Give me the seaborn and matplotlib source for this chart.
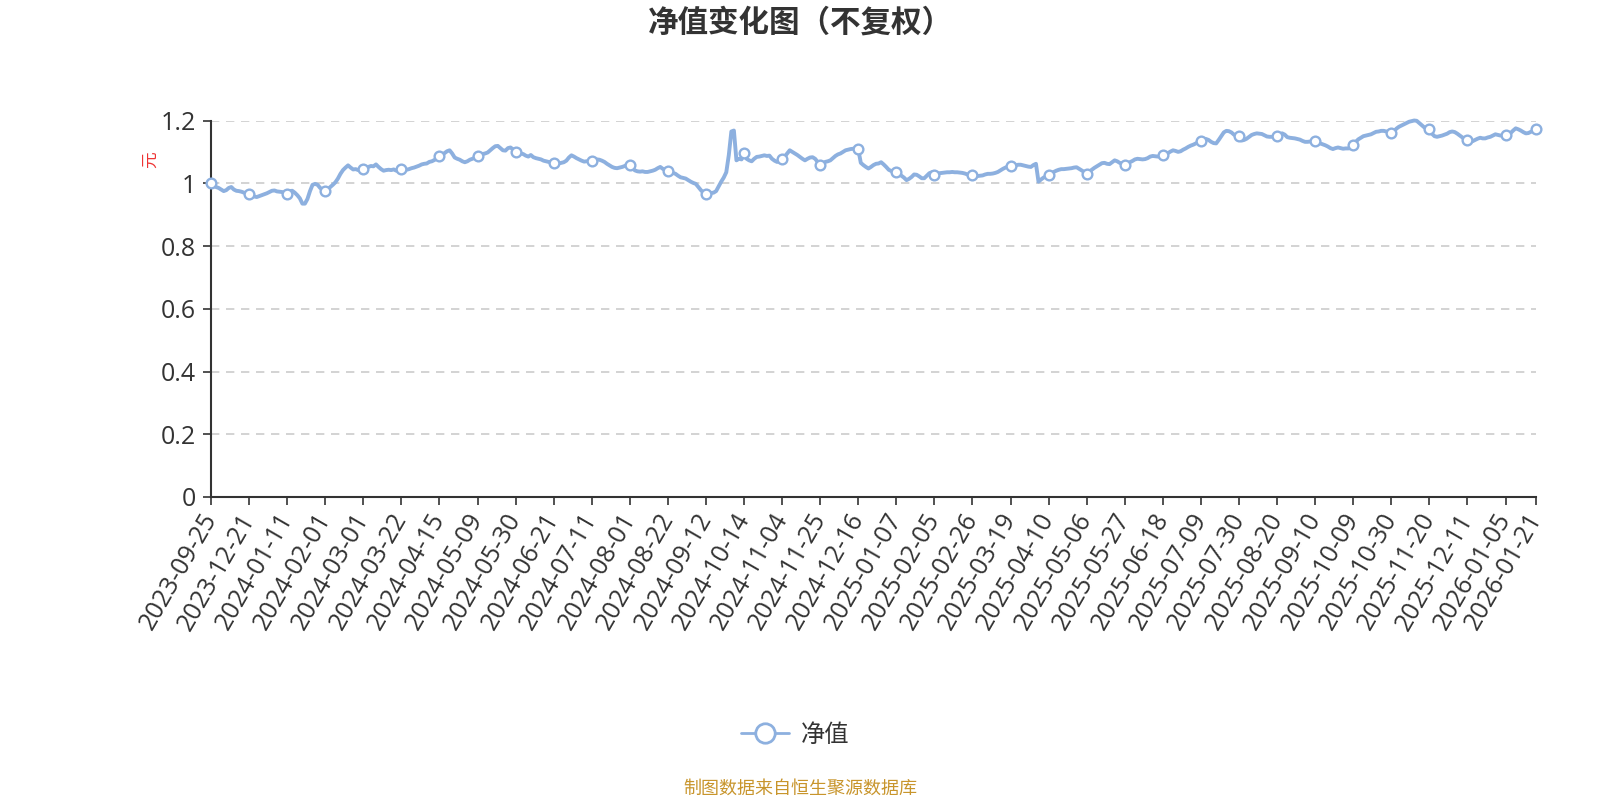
import numpy as np
import pandas as pd
import matplotlib
matplotlib.use('Agg')
import matplotlib.pyplot as plt
from matplotlib.lines import Line2D
import seaborn as sns

# net value per trading day
nav_values = [
    1.000, 0.993, 0.988, 0.985, 0.980, 0.975, 0.978, 0.985, 0.988, 0.980, 0.976, 0.975, 0.973, 0.970, 0.968, 0.966,
    0.962, 0.958, 0.956, 0.959, 0.962, 0.965, 0.968, 0.972, 0.976, 0.977, 0.974, 0.973, 0.972, 0.970, 0.967,
    0.975, 0.976, 0.970, 0.962, 0.952, 0.935, 0.935, 0.950, 0.975, 0.995, 0.998, 0.995, 0.985, 0.980, 0.975,
    0.980, 0.988, 0.995, 1.003, 1.015, 1.030, 1.042, 1.050, 1.057, 1.050, 1.044, 1.045, 1.042, 1.045, 1.046,
    1.050, 1.052, 1.055, 1.054, 1.060, 1.052, 1.045, 1.040, 1.042, 1.043, 1.042, 1.044, 1.040, 1.043, 1.045,
    1.044, 1.043, 1.045, 1.048, 1.050, 1.053, 1.056, 1.060, 1.062, 1.063, 1.068, 1.070, 1.074, 1.080, 1.086,
    1.090, 1.096, 1.102, 1.105, 1.095, 1.082, 1.078, 1.075, 1.070, 1.067, 1.070, 1.075, 1.078, 1.082, 1.086,
    1.088, 1.093, 1.095, 1.098, 1.105, 1.112, 1.118, 1.119, 1.112, 1.105, 1.104, 1.112, 1.114, 1.108, 1.100,
    1.097, 1.095, 1.093, 1.088, 1.085, 1.090, 1.083, 1.080, 1.078, 1.076, 1.072, 1.070, 1.068, 1.067, 1.066,
    1.064, 1.063, 1.065, 1.067, 1.072, 1.082, 1.089, 1.085, 1.080, 1.076, 1.072, 1.069, 1.070, 1.071, 1.072,
    1.074, 1.076, 1.075, 1.072, 1.068, 1.062, 1.057, 1.052, 1.049, 1.048, 1.050, 1.052, 1.055, 1.060, 1.057,
    1.048, 1.041, 1.038, 1.037, 1.038, 1.036, 1.036, 1.038, 1.040, 1.043, 1.048, 1.052, 1.046, 1.042, 1.038,
    1.036, 1.033, 1.030, 1.024, 1.019, 1.017, 1.015, 1.010, 1.005, 1.001, 0.998, 0.988, 0.978, 0.970, 0.966,
    0.967, 0.969, 0.970, 0.975, 0.990, 1.005, 1.018, 1.035, 1.090, 1.165, 1.168, 1.073, 1.078, 1.076, 1.097,
    1.078, 1.073, 1.070, 1.078, 1.084, 1.085, 1.087, 1.089, 1.087, 1.088, 1.078, 1.072, 1.068, 1.070, 1.078,
    1.085, 1.095, 1.105, 1.100, 1.095, 1.090, 1.084, 1.078, 1.073, 1.078, 1.082, 1.083, 1.078, 1.068, 1.057,
    1.062, 1.068, 1.070, 1.073, 1.080, 1.087, 1.092, 1.095, 1.100, 1.105, 1.107, 1.109, 1.110, 1.112, 1.108,
    1.065, 1.058, 1.052, 1.047, 1.052, 1.058, 1.062, 1.063, 1.067, 1.060, 1.052, 1.043, 1.039, 1.037, 1.035,
    1.030, 1.024, 1.018, 1.010, 1.014, 1.020, 1.028, 1.027, 1.022, 1.016, 1.016, 1.024, 1.032, 1.035, 1.027,
    1.030, 1.032, 1.033, 1.034, 1.035, 1.035, 1.036, 1.035, 1.035, 1.034, 1.033, 1.031, 1.028, 1.026, 1.027,
    1.025, 1.023, 1.024, 1.025, 1.028, 1.030, 1.030, 1.031, 1.033, 1.036, 1.041, 1.046, 1.050, 1.053, 1.054,
    1.056, 1.057, 1.059, 1.059, 1.057, 1.055, 1.053, 1.052, 1.058, 1.062, 1.005, 1.012, 1.018, 1.022, 1.027,
    1.031, 1.036, 1.040, 1.043, 1.045, 1.045, 1.046, 1.047, 1.048, 1.050, 1.051, 1.046, 1.041, 1.036, 1.031,
    1.037, 1.043, 1.049, 1.054, 1.059, 1.064, 1.065, 1.062, 1.061, 1.067, 1.073, 1.070, 1.065, 1.062, 1.059,
    1.063, 1.067, 1.071, 1.076, 1.078, 1.077, 1.076, 1.077, 1.080, 1.085, 1.087, 1.086, 1.085, 1.087, 1.089,
    1.091, 1.096, 1.101, 1.105, 1.103, 1.100, 1.102, 1.107, 1.111, 1.116, 1.120, 1.123, 1.127, 1.131, 1.135,
    1.138, 1.141, 1.138, 1.132, 1.128, 1.127, 1.138, 1.150, 1.162, 1.167, 1.166, 1.162, 1.155, 1.150, 1.152,
    1.136, 1.138, 1.142, 1.148, 1.154, 1.157, 1.159, 1.158, 1.157, 1.153, 1.149, 1.148, 1.148, 1.150, 1.152,
    1.155, 1.159, 1.155, 1.147, 1.145, 1.144, 1.143, 1.141, 1.139, 1.135, 1.132, 1.132, 1.133, 1.134, 1.134,
    1.130, 1.127, 1.124, 1.121, 1.117, 1.112, 1.109, 1.112, 1.114, 1.112, 1.110, 1.111, 1.111, 1.112, 1.122,
    1.132, 1.140, 1.145, 1.150, 1.152, 1.154, 1.156, 1.160, 1.164, 1.165, 1.167, 1.167, 1.165, 1.162, 1.161,
    1.165, 1.174, 1.180, 1.184, 1.188, 1.192, 1.196, 1.198, 1.200, 1.199, 1.192, 1.185, 1.178, 1.174, 1.172,
    1.158, 1.150, 1.148, 1.150, 1.152, 1.155, 1.158, 1.163, 1.165, 1.163, 1.158, 1.152, 1.146, 1.141, 1.139,
    1.137, 1.134, 1.138, 1.142, 1.145, 1.143, 1.143, 1.146, 1.148, 1.152, 1.156, 1.154, 1.152, 1.153, 1.154,
    1.157, 1.160, 1.168, 1.175, 1.172, 1.168, 1.163, 1.159, 1.160, 1.164, 1.168, 1.173,
]

tick_dates = [
    '2023-09-25', '2023-12-21', '2024-01-11', '2024-02-01', '2024-03-01', '2024-03-22',
    '2024-04-15', '2024-05-09', '2024-05-30', '2024-06-21', '2024-07-11', '2024-08-01',
    '2024-08-22', '2024-09-12', '2024-10-14', '2024-11-04', '2024-11-25', '2024-12-16',
    '2025-01-07', '2025-02-05', '2025-02-26', '2025-03-19', '2025-04-10', '2025-05-06',
    '2025-05-27', '2025-06-18', '2025-07-09', '2025-07-30', '2025-08-20', '2025-09-10',
    '2025-10-09', '2025-10-30', '2025-11-20', '2025-12-11', '2026-01-05', '2026-01-21',
]
y_ticks = [0, 0.2, 0.4, 0.6, 0.8, 1.0, 1.2]
y_tick_labels = ['0', '0.2', '0.4', '0.6', '0.8', '1', '1.2']

series_name = '净值'
title_text = '净值变化图（不复权）'
unit_text = '元'
source_text = '制图数据来自恒生聚源数据库'

line_color = '#8db0df'
text_color = '#333333'
tick_font = ['Open Sans', 'Noto Sans CJK SC']

sns.set_theme(style='white')
plt.rcParams['font.family'] = ['Noto Sans CJK SC', 'DejaVu Sans']
plt.rcParams['axes.unicode_minus'] = False

n = len(nav_values)
df = pd.DataFrame({'idx': np.arange(n), 'nav': nav_values})
# ticks and symbols every 15 trading days, plus the last day
tick_pos = list(range(0, n, 15)) + [n - 1]

fig = plt.figure(figsize=(16, 8), dpi=100)
ax = fig.add_axes([211 / 1600, 1 - 497 / 800, (1536 - 211) / 1600, (497 - 120.5) / 800])

sns.lineplot(data=df, x='idx', y='nav', ax=ax, color=line_color, linewidth=2.8,
             marker='o', markevery=tick_pos, markersize=7, markerfacecolor='white',
             markeredgecolor=line_color, markeredgewidth=1.7, clip_on=False, zorder=3)

ax.set_xlim(0, n - 1)
ax.set_ylim(0, 1.2)
ax.set_yticks(y_ticks)
ax.set_yticklabels(y_tick_labels, fontsize=18, color=text_color, family=tick_font)
ax.set_xticks(tick_pos)
ax.set_xticklabels(tick_dates, rotation=60, ha='right', va='center',
                   rotation_mode='anchor', fontsize=18, color=text_color, family=tick_font)
ax.tick_params(axis='x', length=6, width=1.2, color=text_color, pad=7)
ax.tick_params(axis='y', length=6, width=1.2, color=text_color, pad=5)
ax.xaxis.set_tick_params(bottom=True)
ax.yaxis.set_tick_params(left=True)
ax.set_xlabel('')
ax.set_ylabel('')

for y in y_ticks[1:]:
    ax.axhline(y, color='#cccccc', linestyle=(0, (5, 4)), linewidth=1.2, zorder=1)

for side in ['top', 'right']:
    ax.spines[side].set_visible(False)
for side in ['left', 'bottom']:
    ax.spines[side].set_color(text_color)
    ax.spines[side].set_linewidth(1.5)

fig.text(150 / 1600, 1 - 160 / 800, unit_text, color='#ee3333', fontsize=12,
         rotation=90, ha='center', va='center')
fig.text(0.5, 1 - 23 / 800, title_text, fontsize=22, fontweight='bold',
         color=text_color, ha='center', va='center')

handle = Line2D([0], [0], color=line_color, linewidth=2, marker='o', markersize=14,
                markerfacecolor='white', markeredgecolor=line_color, markeredgewidth=2)
fig.legend([handle], [series_name], loc='center', bbox_to_anchor=(0.497, 1 - 735 / 800),
           frameon=False, fontsize=17.5, handlelength=2.0, handletextpad=0.5,
           labelcolor=text_color)

fig.text(0.5, 1 - 789 / 800, source_text, fontsize=13, color='#c8952c',
         ha='center', va='center')

fig.savefig('out.png', dpi=100, facecolor='white')
